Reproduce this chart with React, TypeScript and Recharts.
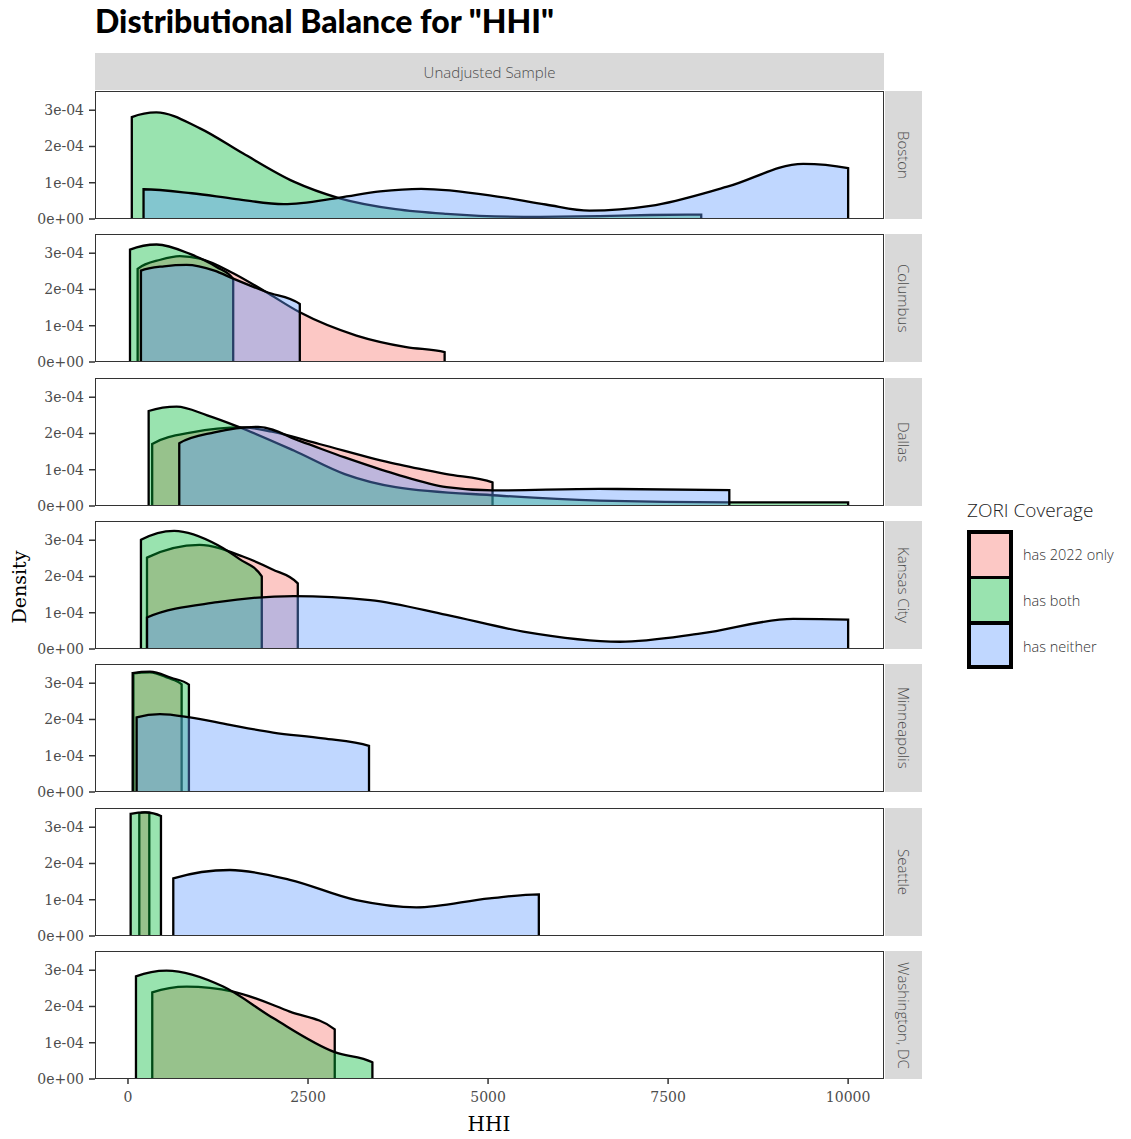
import React from 'react'
import { Area, AreaChart, XAxis, YAxis } from 'recharts'

// [HHI, density in units of 1e-04]
type Pt = [number, number]

const groups = ['has 2022 only', 'has both', 'has neither']
const groupColors = ['#F8766D', '#00BA38', '#619CFF']
const cities = ['Boston', 'Columbus', 'Dallas', 'Kansas City', 'Minneapolis', 'Seattle', 'Washington, DC']
const xTicks = [0, 2500, 5000, 7500, 10000]
const yTicks = [0, 1, 2, 3]

const bostonBoth: Pt[] = [[53, 2.81], [393, 2.94], [1000, 2.5], [1595, 1.81], [2302, 1.03], [2940, 0.57], [3717, 0.27], [4424, 0.14], [5492, 0.06], [6546, 0.08], [7254, 0.11], [7960, 0.12]]
const bostonNeither: Pt[] = [[216, 0.82], [888, 0.71], [1500, 0.55], [2164, 0.41], [2940, 0.59], [3500, 0.76], [4071, 0.83], [5132, 0.62], [5800, 0.4], [6408, 0.23], [7254, 0.36], [8322, 0.89], [9376, 1.52], [10000, 1.4]]

const columbus2022: Pt[] = [[134, 2.57], [450, 2.82], [721, 2.92], [1000, 2.85], [1461, 2.45], [1900, 1.95], [2386, 1.37], [3172, 0.73], [3865, 0.41], [4397, 0.27]]
const columbusBoth: Pt[] = [[28, 3.1], [398, 3.24], [860, 2.98], [1230, 2.62], [1461, 2.29]]
const columbusNeither: Pt[] = [[180, 2.52], [500, 2.64], [814, 2.68], [1200, 2.52], [1461, 2.3], [1923, 1.93], [2386, 1.6]]

const dallas2022: Pt[] = [[336, 1.71], [888, 2.03], [1595, 2.17], [2000, 2.05], [2656, 1.71], [3717, 1.16], [4424, 0.88], [5062, 0.65]]
const dallasBoth: Pt[] = [[287, 2.62], [676, 2.74], [1100, 2.5], [1526, 2.19], [2302, 1.53], [3010, 0.88], [3717, 0.52], [5132, 0.29], [6546, 0.15], [8350, 0.1], [10000, 0.1]]
const dallasNeither: Pt[] = [[712, 1.73], [1200, 2.03], [1808, 2.18], [2400, 1.78], [3010, 1.34], [3717, 0.88], [4424, 0.52], [5062, 0.43], [6546, 0.47], [8350, 0.44]]

const kc2022: Pt[] = [[264, 2.52], [994, 2.87], [1595, 2.55], [2000, 2.2], [2358, 1.81]]
const kcBoth: Pt[] = [[180, 3.01], [641, 3.26], [1243, 2.87], [1550, 2.48], [1858, 2.0]]
const kcNeither: Pt[] = [[264, 0.87], [1243, 1.29], [2302, 1.46], [3365, 1.35], [4424, 0.94], [5488, 0.48], [6832, 0.2], [7961, 0.43], [9237, 0.83], [10000, 0.81]]

const minneapolis2022: Pt[] = [[75, 3.27], [305, 3.3], [550, 3.15], [745, 2.97]]
const minneapolisBoth: Pt[] = [[65, 3.28], [305, 3.32], [600, 3.15], [846, 2.96]]
const minneapolisNeither: Pt[] = [[120, 2.06], [444, 2.15], [860, 2.06], [1415, 1.85], [2015, 1.64], [2709, 1.48], [3347, 1.27]]

const seattle2022: Pt[] = [[157, 3.38], [226, 3.41], [296, 3.4]]
const seattleBoth: Pt[] = [[37, 3.37], [248, 3.41], [458, 3.31]]
const seattleNeither: Pt[] = [[629, 1.59], [1415, 1.82], [2247, 1.55], [3172, 0.99], [4004, 0.79], [5021, 1.04], [5705, 1.15]]

const dc2022: Pt[] = [[337, 2.39], [814, 2.55], [1461, 2.41], [2247, 1.86], [2871, 1.37]]
const dcBoth: Pt[] = [[111, 2.83], [536, 2.99], [1322, 2.55], [2015, 1.68], [2871, 0.74], [3394, 0.46]]

const panelSeries: (Pt[] | null)[][] = [
  [null, bostonBoth, bostonNeither],
  [columbus2022, columbusBoth, columbusNeither],
  [dallas2022, dallasBoth, dallasNeither],
  [kc2022, kcBoth, kcNeither],
  [minneapolis2022, minneapolisBoth, minneapolisNeither],
  [seattle2022, seattleBoth, seattleNeither],
  [dc2022, dcBoth, null],
]

const SANS = '"Open Sans", Lato, sans-serif'
const SERIF = '"DejaVu Serif", "Liberation Serif", serif'
const PLOT_LEFT = 95
const PLOT_RIGHT = 884
const PANEL_H = 128
const PANEL_STEP = 143.3
const FIRST_TOP = 91

// close the trimmed density down to the baseline at both ends
function toPolygon(pts: Pt[]) {
  const first = pts[0]
  const last = pts[pts.length - 1]
  return [
    { hhi: first[0], d: 0 },
    ...pts.map(([hhi, d]) => ({ hhi, d })),
    { hhi: last[0], d: 0 },
  ]
}

function yLabel(v: number) {
  return v === 0 ? '0e+00' : `${v}e-04`
}

function Panel({ idx }: { idx: number }) {
  const top = Math.round(FIRST_TOP + idx * PANEL_STEP)
  const last = idx === cities.length - 1
  const axisH = last ? 32 : 0
  const pad = last ? 0 : 10
  return (
    <>
      <div style={{ position: 'absolute', left: 0, top }}>
        <AreaChart
          width={PLOT_RIGHT}
          height={PANEL_H + axisH + pad}
          margin={{ top: 0, right: 0, bottom: pad, left: 0 }}
        >
          <XAxis
            type="number"
            dataKey="hhi"
            domain={[-458, 10498]}
            allowDataOverflow
            ticks={xTicks}
            interval={0}
            hide={!last}
            height={axisH}
            axisLine={false}
            tickSize={5}
            tickMargin={8}
            tickLine={{ stroke: '#333', strokeWidth: 1.5 }}
            tick={{ fill: '#4d4d4d', fontSize: 14, fontFamily: SERIF }}
          />
          <YAxis
            type="number"
            domain={[0, 3.53]}
            allowDataOverflow
            ticks={yTicks}
            interval={0}
            tickFormatter={yLabel}
            width={PLOT_LEFT}
            axisLine={false}
            tickSize={6}
            tickMargin={5}
            tickLine={{ stroke: '#333', strokeWidth: 1.5 }}
            tick={{ fill: '#4d4d4d', fontSize: 14, fontFamily: SERIF }}
          />
          {panelSeries[idx].map((pts, g) =>
            pts ? (
              <Area
                key={groups[g]}
                data={toPolygon(pts)}
                dataKey="d"
                type="monotone"
                fill={groupColors[g]}
                fillOpacity={0.4}
                stroke="#000"
                strokeWidth={2.3}
                dot={false}
                activeDot={false}
                isAnimationActive={false}
              />
            ) : null
          )}
        </AreaChart>
      </div>
      <div
        style={{
          position: 'absolute',
          left: PLOT_LEFT,
          top,
          width: PLOT_RIGHT - PLOT_LEFT,
          height: PANEL_H,
          boxSizing: 'border-box',
          border: '1.4px solid #333',
          pointerEvents: 'none',
        }}
      />
      <div
        style={{
          position: 'absolute',
          left: PLOT_RIGHT + 1,
          top,
          width: 37,
          height: PANEL_H,
          background: '#d9d9d9',
          display: 'flex',
          alignItems: 'center',
          justifyContent: 'center',
        }}
      >
        <span
          style={{
            writingMode: 'vertical-rl',
            fontFamily: SANS,
            fontSize: 15,
            fontWeight: 300,
            color: '#4d4d4d',
            whiteSpace: 'nowrap',
          }}
        >
          {cities[idx]}
        </span>
      </div>
    </>
  )
}

export default function App() {
  return (
    <div
      style={{
        position: 'absolute',
        left: 0,
        top: 0,
        width: 1131,
        height: 1139,
        background: '#fff',
        overflow: 'hidden',
      }}
    >
      <div
        style={{
          position: 'absolute',
          left: PLOT_LEFT,
          top: 1,
          fontFamily: 'Lato, sans-serif',
          fontWeight: 900,
          fontSize: 32,
          color: '#000',
          whiteSpace: 'nowrap',
        }}
      >
        Distributional Balance for "HHI"
      </div>
      <div
        style={{
          position: 'absolute',
          left: PLOT_LEFT,
          top: 53,
          width: PLOT_RIGHT - PLOT_LEFT,
          height: 37,
          background: '#d9d9d9',
          display: 'flex',
          alignItems: 'center',
          justifyContent: 'center',
          fontFamily: SANS,
          fontWeight: 300,
          fontSize: 15,
          color: '#4d4d4d',
        }}
      >
        Unadjusted Sample
      </div>
      {cities.map((c, i) => (
        <Panel key={c} idx={i} />
      ))}
      <div
        style={{
          position: 'absolute',
          left: 19,
          top: 587,
          transform: 'translate(-50%, -50%) rotate(-90deg)',
          fontFamily: SERIF,
          fontSize: 19,
          color: '#000',
          whiteSpace: 'nowrap',
        }}
      >
        Density
      </div>
      <div
        style={{
          position: 'absolute',
          left: 489,
          top: 1124,
          transform: 'translate(-50%, -50%)',
          fontFamily: SERIF,
          fontSize: 20,
          color: '#000',
        }}
      >
        HHI
      </div>
      <div style={{ position: 'absolute', left: 967, top: 497 }}>
        <div style={{ fontFamily: SANS, fontWeight: 300, fontSize: 19, color: '#222', marginBottom: 8 }}>
          ZORI Coverage
        </div>
        {groups.map((g, i) => (
          <div key={g} style={{ display: 'flex', alignItems: 'center', height: 46 }}>
            <div
              style={{
                width: 46,
                height: i === 0 ? 48 : 46,
                boxSizing: 'border-box',
                border: '4px solid #000',
                borderTopWidth: i === 0 ? 4 : 2,
                borderBottomWidth: i === groups.length - 1 ? 4 : 2,
                position: 'relative',
              }}
            >
              <div
                style={{
                  position: 'absolute',
                  inset: 0,
                  background: groupColors[i],
                  opacity: 0.4,
                }}
              />
            </div>
            <span style={{ marginLeft: 10, fontFamily: SANS, fontWeight: 300, fontSize: 14.5, color: '#333' }}>{g}</span>
          </div>
        ))}
      </div>
    </div>
  )
}
